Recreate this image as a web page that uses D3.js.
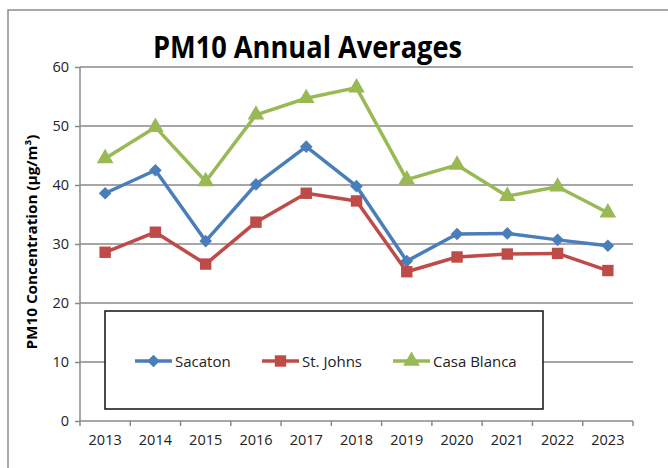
<!DOCTYPE html>
<html>
<head>
<meta charset="utf-8">
<script src="https://cdn.jsdelivr.net/npm/d3@7"></script>
<style>
  body { margin: 0; background: #fff; }
  svg text { font-family: "Open Sans", "Liberation Sans", sans-serif; }
</style>
</head>
<body>
<svg id="chart" width="668" height="468"></svg>
<script>
// ---- data ----
const years = ['2013', '2014', '2015', '2016', '2017', '2018', '2019', '2020', '2021', '2022', '2023']
const sacaton = [38.6, 42.5, 30.5, 40.1, 46.5, 39.8, 27.1, 31.7, 31.8, 30.7, 29.7]
const stJohns = [28.6, 32.0, 26.6, 33.7, 38.6, 37.3, 25.3, 27.8, 28.3, 28.4, 25.5]
const casaBlanca = [44.5, 49.8, 40.6, 51.9, 54.7, 56.5, 40.9, 43.4, 38.1, 39.7, 35.3]
const yTicks = [0, 10, 20, 30, 40, 50, 60]

// square diamond, like the Excel marker (d3's diamond is too tall)
const squareDiamond = {
    draw(ctx, size) {
        let r = Math.sqrt(size / 2)
        ctx.moveTo(0, -r); ctx.lineTo(r, 0); ctx.lineTo(0, r); ctx.lineTo(-r, 0); ctx.closePath()
    }
}

const series = [
    { name: 'Sacaton', values: sacaton, color: '#4A7EBB', marker: squareDiamond, size: 80, dy: 0 },
    { name: 'St. Johns', values: stJohns, color: '#BE4B48', marker: d3.symbolSquare, size: 130, dy: 0 },
    { name: 'Casa Blanca', values: casaBlanca, color: '#98B954', marker: d3.symbolTriangle, size: 120, dy: 0 },
]

let svg = d3.select('#chart')
let plotLeft = 80, plotRight = 633, plotTop = 67, plotBottom = 421

// outer frame
svg.append('rect').attr('x', 8).attr('y', 10).attr('width', 700).attr('height', 500)
    .attr('fill', 'none').attr('stroke', '#8c8c8c').attr('stroke-width', 1.5)

let x = d3.scaleBand().domain(years).range([plotLeft, plotRight])
let y = d3.scaleLinear().domain([0, 60]).range([plotBottom, plotTop])

// grid lines
svg.append('g').selectAll('line')
    .data(yTicks.filter(d => d > 0))
    .enter().append('line')
    .attr('x1', plotLeft).attr('x2', plotRight)
    .attr('y1', d => y(d)).attr('y2', d => y(d))
    .attr('stroke', '#8a8a8a').attr('stroke-width', 1.5)

// y axis
let yAxis = svg.append('g')
    .attr('transform', 'translate(' + plotLeft + ',0)')
    .call(d3.axisLeft(y).tickValues(yTicks).tickSize(5).tickPadding(6))
yAxis.selectAll('path, line').attr('stroke', '#8a8a8a').attr('stroke-width', 1.5)
yAxis.select('.domain').attr('d', 'M0,' + plotTop + 'V' + plotBottom)
yAxis.selectAll('text').attr('font-size', 14.5).attr('fill', '#222')

// x axis (ticks on band edges)
let xAxis = svg.append('g')
    .attr('transform', 'translate(0,' + plotBottom + ')')
    .call(d3.axisBottom(x).tickSize(0).tickPadding(14))
xAxis.select('.domain').attr('stroke', '#8a8a8a').attr('stroke-width', 1.5)
    .attr('d', 'M' + plotLeft + ',0H' + plotRight)
xAxis.selectAll('text').attr('font-size', 14.5).attr('fill', '#222')
xAxis.selectAll('.edge')
    .data(years.map(d => x(d)).concat([plotRight]))
    .enter().append('line').attr('class', 'edge')
    .attr('x1', d => d).attr('x2', d => d).attr('y1', 0).attr('y2', 5)
    .attr('stroke', '#8a8a8a').attr('stroke-width', 1.5)

// lines + markers
let cx = d => x(d) + x.bandwidth() / 2
let line = d3.line().x((v, i) => cx(years[i])).y(v => y(v))

for (let s of series) {
    svg.append('path')
        .attr('d', line(s.values))
        .attr('fill', 'none').attr('stroke', s.color).attr('stroke-width', 3.5)
        .attr('stroke-linejoin', 'round')
    svg.append('g').selectAll('path')
        .data(s.values)
        .enter().append('path')
        .attr('d', d3.symbol().type(s.marker).size(s.size))
        .attr('transform', (v, i) => 'translate(' + cx(years[i]) + ',' + y(v) + ')')
        .attr('fill', s.color)
}

// legend
let legend = svg.append('g')
legend.append('rect').attr('x', 105).attr('y', 311).attr('width', 438).attr('height', 98)
    .attr('fill', '#fff').attr('stroke', '#111').attr('stroke-width', 1.5)
let legendX = [135, 262, 393]
series.forEach((s, i) => {
    let g = legend.append('g').attr('transform', 'translate(' + legendX[i] + ',361)')
    g.append('line').attr('x1', 0).attr('x2', 37).attr('stroke', s.color).attr('stroke-width', 3.5)
    g.append('path').attr('d', d3.symbol().type(s.marker).size(s.size))
        .attr('transform', 'translate(18.5,0)').attr('fill', s.color)
    g.append('text').attr('x', 40).attr('y', 5.5).attr('font-size', 15).attr('fill', '#222')
        .text(s.name)
})

// title
svg.append('text').attr('x', 153).attr('y', 58)
    .attr('font-size', 30).attr('font-weight', 'bold').attr('fill', '#000')
    .attr('textLength', 309).attr('lengthAdjust', 'spacingAndGlyphs')
    .text('PM10 Annual Averages')

// y label
svg.append('text')
    .attr('transform', 'translate(37,242) rotate(-90)')
    .attr('text-anchor', 'middle').attr('font-size', 14).attr('font-weight', 'bold').attr('fill', '#000')
    .attr('textLength', 215).attr('lengthAdjust', 'spacingAndGlyphs')
    .text('PM10 Concentration (µg/m³)')
</script>
</body>
</html>
